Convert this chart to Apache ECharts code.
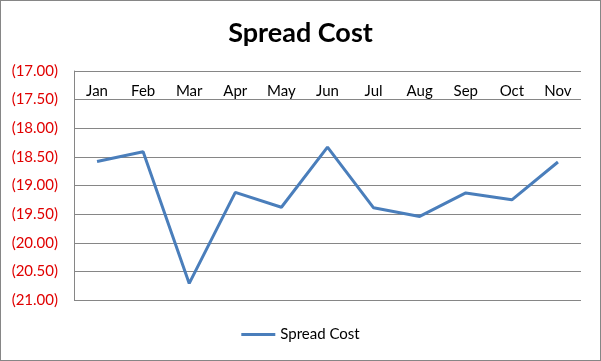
<!DOCTYPE html>
<html>
<head>
<meta charset="utf-8">
<script src="https://cdn.jsdelivr.net/npm/echarts@6/dist/echarts.min.js"></script>
<style>
  html, body { margin: 0; padding: 0; background: #fff; }
  #chart { width: 601px; height: 361px; box-sizing: border-box; border: 1px solid #868686; }
</style>
</head>
<body>
<div id="chart"></div>
<script>
// data
var months = ["Jan", "Feb", "Mar", "Apr", "May", "Jun", "Jul", "Aug", "Sep", "Oct", "Nov"];
var spreadCost = [-18.58, -18.41, -20.71, -19.12, -19.38, -18.33, -19.39, -19.54, -19.13, -19.25, -18.59];
var yMin = -21, yMax = -17, yStep = 0.5;

var chart = echarts.init(document.getElementById("chart"));
var font = "Lato, 'Open Sans', sans-serif";

chart.setOption({
  animation: false,
  title: {
    text: "Spread Cost",
    left: "center",
    top: 14,
    textStyle: { fontFamily: font, fontSize: 27, fontWeight: "bold", color: "#000" }
  },
  legend: {
    bottom: 13,
    left: "center",
    itemWidth: 34,
    itemHeight: 3,
    icon: "rect",
    textStyle: { fontFamily: font, fontSize: 15, color: "#000" },
    data: ["Spread Cost"]
  },
  grid: { left: 73, right: 19, top: 70, bottom: 60 },
  xAxis: {
    type: "category",
    position: "top",
    data: months,
    boundaryGap: true,
    axisLine: { show: false },
    axisTick: { show: false },
    axisLabel: {
      inside: true,
      margin: 13,
      fontFamily: font,
      fontSize: 15,
      color: "#000"
    }
  },
  yAxis: {
    type: "value",
    min: yMin,
    max: yMax,
    interval: yStep,
    axisLine: { show: true, lineStyle: { color: "#868686", width: 1 } },
    axisTick: { show: false },
    splitLine: { lineStyle: { color: "#868686", width: 1 } },
    axisLabel: {
      margin: 16,
      fontFamily: font,
      fontSize: 15,
      color: "#e00000",
      formatter: function (v) { return "(" + Math.abs(v).toFixed(2) + ")"; }
    }
  },
  series: [{
    name: "Spread Cost",
    type: "line",
    data: spreadCost,
    symbol: "none",
    lineStyle: { color: "#4a7ebb", width: 3 },
    itemStyle: { color: "#4a7ebb" }
  }]
});
</script>
</body>
</html>
